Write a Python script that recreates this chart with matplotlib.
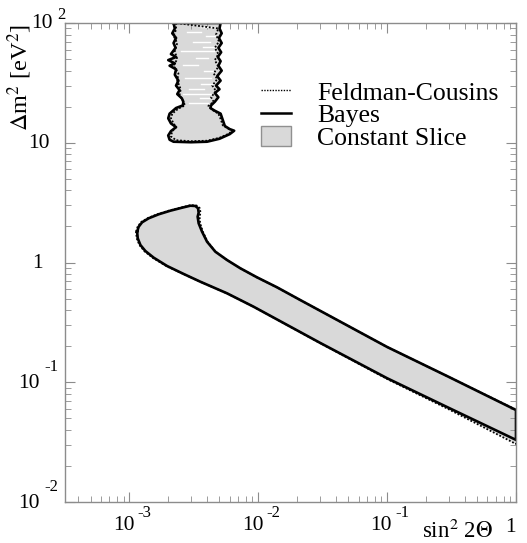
import matplotlib
matplotlib.use('Agg')
import matplotlib.pyplot as plt
from matplotlib.lines import Line2D
from matplotlib.patches import Patch
from matplotlib.transforms import offset_copy

plt.rcParams['font.family'] = ['Liberation Serif', 'DejaVu Serif']
plt.rcParams['mathtext.fontset'] = 'stix'

# Lower band, Bayes contour (top edge from the tip to x=1, then bottom edge back)
bayes_top_x = [1.147e-3, 1.18e-3, 1.254e-3, 1.411e-3, 1.687e-3, 2.078e-3, 2.562e-3, 2.971e-3, 3.248e-3,
               3.409e-3, 3.445e-3, 3.384e-3, 3.445e-3, 3.661e-3, 4.002e-3, 4.642e-3, 5.719e-3, 7.252e-3,
               9.77e-3, 1.396e-2, 2.117e-2, 0.1, 0.3, 1.0]
bayes_top_y = [1.808, 1.991, 2.166, 2.34, 2.527, 2.708, 2.869, 2.981, 2.964,
               2.836, 2.606, 2.413, 2.125, 1.808, 1.492, 1.231, 1.049, 0.895,
               0.752, 0.621, 0.486, 0.197, 0.111, 0.0586]
bayes_bot_x = [1.0, 0.3, 0.1, 0.03, 9.19e-3, 5.719e-3, 3.552e-3, 2.636e-3, 1.96e-3, 1.543e-3, 1.33e-3,
               1.217e-3, 1.16e-3, 1.147e-3]
bayes_bot_y = [0.033, 0.0612, 0.108, 0.214, 0.4275, 0.553, 0.691, 0.802, 0.935, 1.097, 1.247,
               1.40, 1.592, 1.808]

# Lower band, Feldman-Cousins contour
fc_top_x = [1.125e-3, 1.16e-3, 1.235e-3, 1.40e-3, 1.68e-3, 2.07e-3, 2.56e-3, 2.99e-3, 3.32e-3,
            3.52e-3, 3.56e-3, 3.50e-3, 3.54e-3, 3.72e-3, 4.04e-3, 4.66e-3, 5.73e-3, 7.26e-3,
            9.77e-3, 1.396e-2, 2.117e-2, 0.1, 0.3, 1.0]
fc_top_y = [1.808, 2.0, 2.18, 2.36, 2.55, 2.73, 2.89, 3.01, 2.99,
            2.84, 2.60, 2.41, 2.12, 1.80, 1.49, 1.23, 1.048, 0.894,
            0.751, 0.62, 0.486, 0.197, 0.111, 0.059]
fc_bot_x = [1.0, 0.3, 0.1, 0.03, 9.19e-3, 5.719e-3, 3.552e-3, 2.636e-3, 1.95e-3, 1.525e-3, 1.31e-3,
            1.195e-3, 1.14e-3, 1.125e-3]
fc_bot_y = [0.0305, 0.0595, 0.1065, 0.213, 0.427, 0.552, 0.69, 0.80, 0.93, 1.09, 1.24,
            1.40, 1.59, 1.808]

# Upper island, Bayes contour (clockwise from top left)
isl_x = [2.2e-3, 2.25e-3, 2.15e-3, 2.3e-3, 2.2e-3, 2.28e-3, 2.1e-3, 2.3e-3, 2.0e-3, 2.25e-3, 2.05e-3,
         2.3e-3, 2.25e-3, 2.4e-3, 2.3e-3, 2.45e-3, 2.35e-3, 2.55e-3, 2.62e-3, 2.6e-3,
         2.3e-3, 2.05e-3, 2.0e-3, 2.1e-3, 2.3e-3, 2.1e-3, 2.0e-3, 2.05e-3, 2.2e-3, 3.0e-3, 4.0e-3,
         5.0e-3, 6.0e-3, 6.5e-3, 6.0e-3, 5.5e-3, 5.3e-3, 5.1e-3, 4.6e-3, 4.25e-3, 4.3e-3,
         4.6e-3, 4.9e-3, 4.6e-3, 5.0e-3, 4.7e-3, 5.1e-3, 4.8e-3, 5.2e-3, 4.9e-3, 5.1e-3,
         4.85e-3, 5.15e-3, 4.9e-3, 5.2e-3, 4.95e-3, 5.2e-3, 5.0e-3, 5.1e-3, 2.2e-3]
isl_y = [100, 90, 82, 75, 68, 62, 55, 52, 49, 46, 44,
         41, 37, 33, 30, 27.5, 25.5, 23.5, 22, 20.5,
         19.5, 17.5, 16, 14.5, 13.5, 12.5, 11.5, 10.6, 10.2, 10.1, 10.2,
         10.8, 11.8, 12.6, 13.0, 13.8, 15.5, 17.5, 18.5, 19.5, 20.5,
         22, 24, 26, 28, 30, 33, 36, 40, 44, 48,
         52, 57, 62, 68, 75, 82, 90, 100, 100]

# Upper island, Feldman-Cousins contour
fc_isl_x = [2.3e-3, 2.3e-3, 2.2e-3, 2.35e-3, 2.25e-3, 2.35e-3, 2.2e-3, 2.4e-3, 2.35e-3, 2.5e-3, 2.45e-3,
            2.6e-3, 2.7e-3, 2.4e-3, 2.15e-3, 2.1e-3, 2.2e-3, 2.3e-3, 2.15e-3, 2.1e-3, 2.3e-3,
            3.0e-3, 4.0e-3, 5.0e-3, 5.9e-3, 6.3e-3, 5.8e-3, 5.3e-3, 5.1e-3, 4.9e-3, 4.4e-3, 4.1e-3,
            4.5e-3, 4.3e-3, 4.7e-3, 4.4e-3, 4.8e-3, 4.5e-3, 4.9e-3, 4.6e-3, 4.9e-3, 4.6e-3,
            4.95e-3, 4.7e-3, 4.9e-3, 2.3e-3]
fc_isl_y = [100, 88, 78, 68, 58, 50, 44, 38, 33, 28, 25,
            22.5, 20.5, 19.3, 17.5, 16, 14.5, 13.5, 12.5, 11.3, 10.5,
            10.3, 10.4, 11.0, 11.9, 12.6, 13.2, 14.0, 15.8, 17.5, 18.8, 20.3,
            22, 24, 27, 30, 34, 38, 43, 49, 55, 62,
            70, 80, 90, 100]

# White gaps inside the island
gap_y = [92, 84, 78, 70, 63, 58, 51, 45, 40, 35, 31, 28, 25.5, 23.5, 21.5]
gap_x0 = [3.6e-3, 2.8e-3, 3.9e-3, 3.1e-3, 3.7e-3, 2.5e-3, 3.3e-3, 2.6e-3, 3.8e-3, 2.7e-3, 3.6e-3,
          2.9e-3, 2.6e-3, 3.5e-3, 2.9e-3]
gap_x1 = [4.5e-3, 3.6e-3, 4.7e-3, 4.2e-3, 4.6e-3, 4.5e-3, 4.1e-3, 3.4e-3, 4.6e-3, 4.3e-3, 4.5e-3,
          3.8e-3, 4.4e-3, 4.2e-3, 4.1e-3]

x_tick_vals = [1e-3, 1e-2, 1e-1, 1]
x_tick_base = ['10', '10', '10', '1']
x_tick_exp = ['-3', '-2', '-1', '']
y_tick_vals = [1e-2, 1e-1, 1, 10, 100]
y_tick_base = ['10', '10', '1', '10', '10']
y_tick_exp = ['-2', '-1', '', '', '2']

legend_labels = ['Feldman-Cousins', 'Bayes', 'Constant Slice']

fill_col = '#d9d9d9'
frame_col = '#8c8c8c'

fig = plt.figure(figsize=(5.27, 5.43), dpi=100)
ax = fig.add_axes([65/527, 41/543, 451/527, 479/543])
ax.set_xscale('log')
ax.set_yscale('log')
ax.set_xlim(10**-3.5, 1)
ax.set_ylim(1e-2, 1e2)

# constant slice regions
ax.fill(fc_top_x + fc_bot_x, fc_top_y + fc_bot_y, color=fill_col, lw=0)
ax.fill(isl_x, isl_y, color=fill_col, lw=0)
for gy, g0, g1 in zip(gap_y, gap_x0, gap_x1):
    ax.plot([g0, g1], [gy, gy], color='white', lw=1.0)

# Feldman-Cousins (dotted)
ax.plot(fc_top_x + fc_bot_x, fc_top_y + fc_bot_y, color='black', ls=(0, (1, 1)), lw=1.3)
ax.plot(fc_isl_x, fc_isl_y, color='black', ls=(0, (1, 1)), lw=1.3)

# Bayes (solid)
ax.plot(bayes_top_x + bayes_bot_x, bayes_top_y + bayes_bot_y, color='black', lw=1.9)
ax.plot(isl_x, isl_y, color='black', lw=1.9)

# frame and ticks
for sp in ax.spines.values():
    sp.set_color(frame_col)
    sp.set_linewidth(1.0)
ax.tick_params(which='both', direction='in', top=True, right=True, colors=frame_col,
               labelbottom=False, labelleft=False)
ax.tick_params(which='major', length=7)
ax.tick_params(which='minor', length=4)

# tick labels like "10 -3"
xtr = ax.get_xaxis_transform()
for v, b, e in zip(x_tick_vals, x_tick_base, x_tick_exp):
    if e:
        ax.text(v, 0, b, transform=offset_copy(xtr, fig=fig, x=5, y=-24, units='dots'),
                ha='right', va='center', fontsize=15.5)
        ax.text(v, 0, e, transform=offset_copy(xtr, fig=fig, x=8, y=-11, units='dots'),
                ha='left', va='center', fontsize=12)
    else:
        ax.text(v, 0, b, transform=offset_copy(xtr, fig=fig, x=0, y=-26, units='dots'),
                ha='right', va='center', fontsize=15.5)

ytr = ax.get_yaxis_transform()
y_dx = {'-2': -25, '-1': -25, '2': -12}
for v, b, e in zip(y_tick_vals, y_tick_base, y_tick_exp):
    if e:
        dx = y_dx[e]
        ax.text(0, v, b, transform=offset_copy(ytr, fig=fig, x=dx, y=-1, units='dots'),
                ha='right', va='center', fontsize=15.5)
        dy = 8 if e == '2' else 15
        ax.text(0, v, e, transform=offset_copy(ytr, fig=fig, x=dx + 4, y=dy, units='dots'),
                ha='left', va='center', fontsize=12)
    else:
        dx = -15 if b == '10' else -22
        ax.text(0, v, b, transform=offset_copy(ytr, fig=fig, x=dx, y=-1, units='dots'),
                ha='right', va='center', fontsize=15.5)

fig.text(20/527, 1 - 78/543, r'$\Delta$m$^2$ [eV$^2$]', rotation=90,
         ha='center', va='center', fontsize=17.5)
fig.text(493/527, 1 - 531/543, r'sin$^2$ 2$\Theta$', ha='right', va='center', fontsize=16.5)

handles = [Line2D([], [], color='black', ls=(0, (1, 1)), lw=1.0),
           Line2D([], [], color='black', lw=1.8),
           Patch(facecolor=fill_col, edgecolor='#909090', lw=1.0)]
ax.legend(handles, legend_labels, loc='upper left', bbox_to_anchor=(0.435, 0.879),
          frameon=False, fontsize=18.5, handlelength=1.17, handleheight=0.8,
          handletextpad=1.0, labelspacing=-0.05, borderpad=0, borderaxespad=0)

plt.savefig('out.png', dpi=100)
